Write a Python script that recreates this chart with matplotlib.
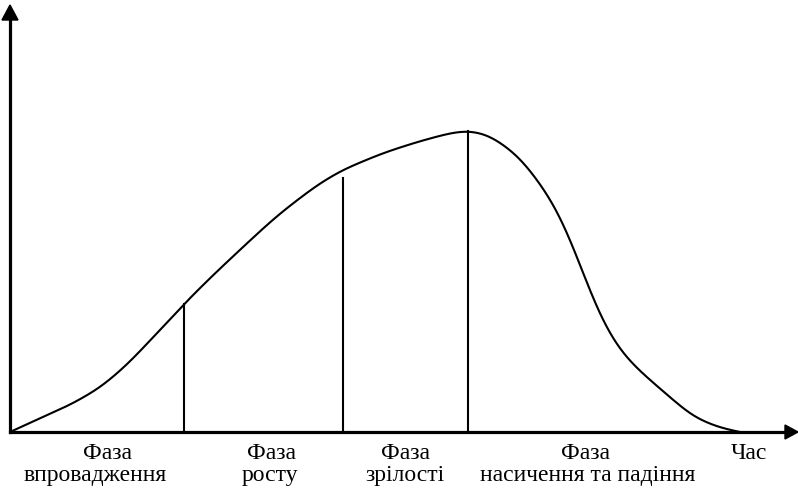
import matplotlib
matplotlib.use("Agg")
import matplotlib.pyplot as plt
from matplotlib.patches import Polygon
import numpy as np

# Product life cycle curve (time units, sales units)
time = [0, 33, 60, 90, 117, 150, 174, 200, 233, 260, 273, 307, 332, 373, 407,
        440, 458, 480, 510, 540, 557, 573, 590, 607, 623, 640, 683, 710, 730]
sales = [0, 15, 27, 44, 67, 102, 128, 154, 185, 210, 221, 247, 262, 279, 290,
         299, 302, 297, 275, 235, 202, 159, 115, 85, 67, 52, 15, 4, 0]

# Phase boundaries
boundary_t = [174, 333, 458]
boundary_h = [128, 254, 301]

phase_titles = ["Фаза", "Фаза", "Фаза", "Фаза"]
phase_names = ["впровадження", "росту", "зрілості", "насичення та падіння"]
title_centers = [97, 261, 395, 576]
name_centers = [85, 260, 395, 578]
axis_label = "Час"

plt.rcParams['font.family'] = ['Liberation Serif', 'DejaVu Serif']

fig = plt.figure(figsize=(7.98, 4.92), dpi=100)
ax = fig.add_axes([0, 0, 1, 1])
ax.set_xlim(-10, 788)
ax.set_ylim(-60, 432)
ax.axis("off")


def smooth_curve(x, y, sigma=11.0, step=0.5):
    x = np.asarray(x, float)
    y = np.asarray(y, float)
    xs = np.arange(x[0], x[-1] + step / 2, step)
    ys = np.interp(xs, x, y)
    pad = int(4 * sigma / step)
    left = 2 * ys[0] - ys[1:pad + 1][::-1]
    right = 2 * ys[-1] - ys[-pad - 1:-1][::-1]
    ext = np.concatenate([left, ys, right])
    k = np.arange(-pad, pad + 1) * step
    g = np.exp(-0.5 * (k / sigma) ** 2)
    g /= g.sum()
    sm = np.convolve(ext, g, mode='same')[pad:pad + len(ys)]
    return xs, np.maximum(sm, 0)


cx, cy = smooth_curve(time, sales)
ax.plot(cx, cy, color='black', lw=1.5, solid_capstyle='round')

for t, h in zip(boundary_t, boundary_h):
    ax.plot([t, t], [0, h], color='black', lw=1.5)

# axes with arrows
ax.plot([0, 0], [0, 414], color='black', lw=2.3)
ax.add_patch(Polygon([[-8, 412], [8, 412], [0, 427]], closed=True, color='black'))
ax.plot([0, 777], [0, 0], color='black', lw=2.3)
ax.add_patch(Polygon([[775, 7], [775, -7], [788, 0]], closed=True, color='black'))

for xc, t1 in zip(title_centers, phase_titles):
    ax.text(xc, -27, t1, ha='center', va='baseline', fontsize=17)
for xc, t2 in zip(name_centers, phase_names):
    ax.text(xc, -49, t2, ha='center', va='baseline', fontsize=17)
ax.text(739, -27, axis_label, ha='center', va='baseline', fontsize=17)

fig.savefig("out.png", dpi=100)
